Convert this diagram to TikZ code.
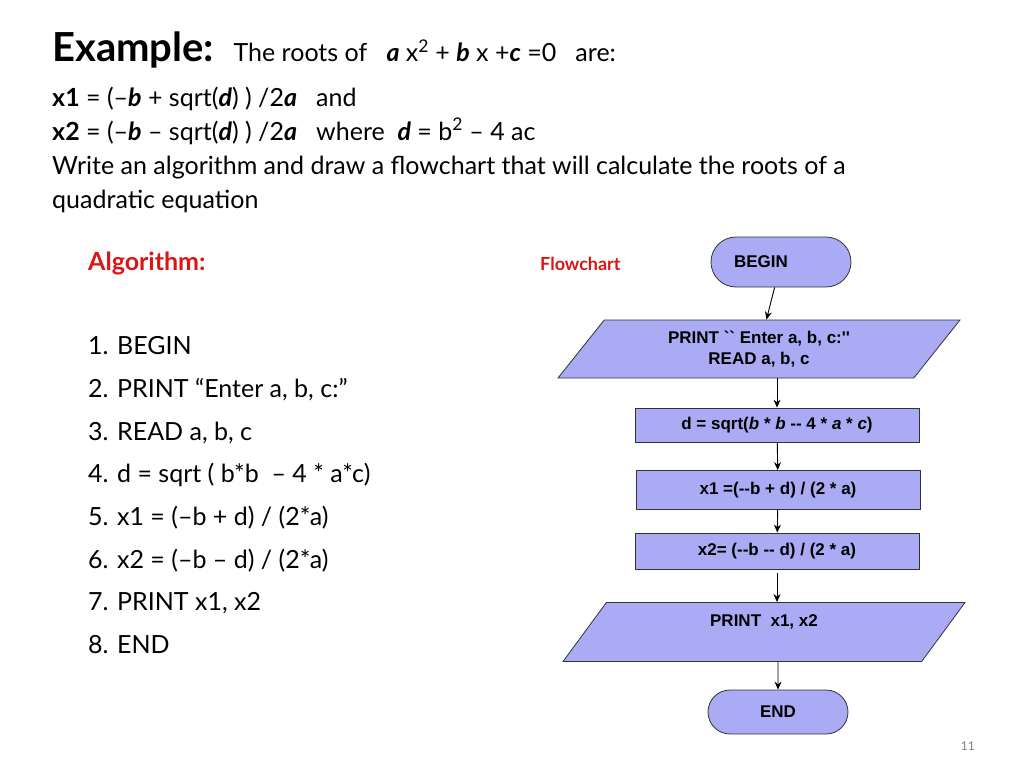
\documentclass[tikz,border=0pt]{standalone}
\usepackage{fontspec}
\setmainfont{Lato}
\newfontfamily\chartfont{Liberation Sans}
\usetikzlibrary{shapes.geometric, shapes.misc, arrows.meta}
\definecolor{boxfill}{RGB}{170,170,245}
\definecolor{slidered}{RGB}{220,20,20}

\begin{document}
\begin{tikzpicture}[
    x=1pt, y=-1pt,
    every node/.style={inner sep=0pt},
    txt/.style={anchor=base west, font=\fontsize{25}{30}\selectfont},
    chart/.style={draw=black!80, fill=boxfill, line width=0.8pt,
        font=\chartfont\bfseries\fontsize{17}{21}\selectfont, align=center},
    term/.style={chart, rounded rectangle, minimum width=140pt, minimum height=50pt},
    io/.style={chart, trapezium, trapezium left angle=38, trapezium right angle=142,
        trapezium stretches body, minimum width=402pt, minimum height=58pt},
    proc/.style={chart, rectangle, minimum width=284pt, minimum height=34pt},
    arrow/.style={-{Stealth[length=8pt,width=7pt]}, line width=0.9pt}
]
\useasboundingbox (0,0) rectangle (1024,768);

% ==================== PROBLEM STATEMENT ====================
\node[txt] (title) at (52,62) {\fontsize{40}{44}\selectfont\bfseries Example:\ \ \fontsize{25}{30}\selectfont\mdseries The roots of \ \ \textbf{\itshape a} x\textsuperscript{2} + \textbf{\itshape b} x +\textbf{\itshape c} =0 \ \ are:};
\node[txt] (xone) at (52,106) {\textbf{x1} = (--\textbf{\itshape b} + sqrt(\textbf{\itshape d}) ) /2\textbf{\itshape a} \ \ and};
\node[txt] (xtwo) at (52,140) {\textbf{x2} = (--\textbf{\itshape b} -- sqrt(\textbf{\itshape d}) ) /2\textbf{\itshape a} \ \ where \ \textbf{\itshape d} = b\textsuperscript{2} -- 4 ac};
\node[txt] (task) at (52,174) {Write an algorithm and draw a flowchart that will calculate the roots of a};
\node[txt] (task2) at (52,208) {quadratic equation};

% ==================== ALGORITHM ====================
\node[txt, text=slidered, font=\bfseries\fontsize{25}{30}\selectfont] (algo) at (88,270) {Algorithm:};
\foreach \t [count=\i] in {1. BEGIN, 2. PRINT ``Enter a{,} b{,} c:'', 3. READ a{,} b{,} c,
    4. d = sqrt ( b*b \ -- 4 * a*c), 5. x1 = (--b + d) / (2*a), 6. x2 = (--b -- d) / (2*a),
    7. PRINT x1{,} x2, 8. END}
    \node[txt] (step\i) at (88,{312+42.7*\i}) {\t};

% ==================== FLOWCHART ====================
\node[anchor=base west, text=slidered, font=\bfseries\fontsize{18}{22}\selectfont] (fclabel) at (540,270) {Flowchart};
\node[term] (begin) at (781,262) {\hspace*{-40pt}BEGIN};
\node[io] (input) at (759,349) {PRINT `` Enter a, b, c:''\\READ a, b, c};
\node[proc] (calcd) at (777,425) {\raisebox{-7pt}{d = sqrt(\textit{b} * \textit{b} -- 4 * \textit{a} * \textit{c})}};
\node[proc, minimum height=39pt] (calcx1) at (778,490) {x1 =(--b + d) / (2 * a)};
\node[proc, minimum height=36pt] (calcx2) at (777,551) {x2= (--b -- d) / (2 * a)};
\node[io, minimum height=59pt] (output) at (764,632) {\raisebox{22pt}{PRINT \ x1, x2}};
\node[term, minimum height=44pt] (end) at (778,712) {END};

\draw[arrow] (begin) -- (input);
\draw[arrow] (input.south -| calcd) -- (calcd);
\draw[arrow] (calcd) -- (calcx1);
\draw[arrow] (calcx1) -- (calcx2);
\draw[arrow] (calcx2.south) ++(0,4) -- (output.north -| calcx2);
\draw[arrow] (output.south -| end) -- (end);

\node[anchor=base east, text=black!50, font=\fontsize{12}{14}\selectfont] (page) at (975,750) {11};
\end{tikzpicture}
\end{document}
